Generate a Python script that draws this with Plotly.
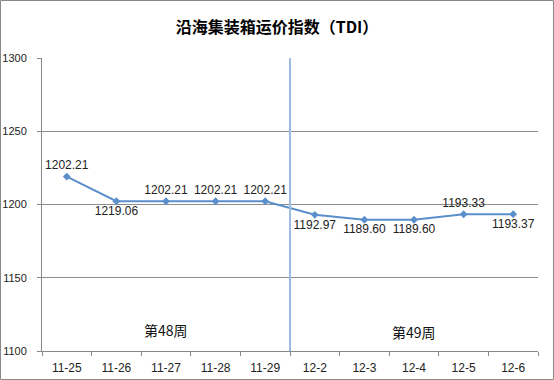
import plotly.graph_objects as go

categories = ["11-25", "11-26", "11-27", "11-28", "11-29", "12-2", "12-3", "12-4", "12-5", "12-6"]
values = [1219.06, 1202.21, 1202.21, 1202.21, 1202.21, 1192.97, 1189.60, 1189.60, 1193.33, 1193.37]
point_labels = ["1202.21", "1219.06", "1202.21", "1202.21", "1202.21", "1192.97", "1189.60", "1189.60", "1193.33", "1193.37"]
label_pos = ["top center", "bottom center", "top center", "top center", "top center",
             "bottom center", "bottom center", "bottom center", "top center", "bottom center"]
week_labels = ["第48周", "第49周"]
week_label_cats = ["11-27", "12-4"]
week_label_y = [1114.5, 1113]
y_ticks = [1100, 1150, 1200, 1250, 1300]

W, H = 554, 380
ml, mr, mt, mb = 42, 16, 58, 29
pw, ph = W - ml - mr, H - mt - mb

fig = go.Figure()
fig.add_trace(go.Scatter(
    x=categories, y=values, mode="lines+markers+text",
    text=point_labels, textposition=label_pos,
    textfont=dict(family="Liberation Sans, Arial", size=12, color="#222222"),
    line=dict(color="#5B8FCC", width=2),
    marker=dict(symbol="diamond", size=6, color="#5B8FCC"),
    cliponaxis=False, showlegend=False,
))

for t, c, yv in zip(week_labels, week_label_cats, week_label_y):
    fig.add_annotation(x=c, y=yv, text=t, showarrow=False,
                       font=dict(family="Noto Sans CJK SC", size=14, color="#111111"))

# week divider between 11-29 and 12-2
fig.add_shape(type="line", xref="x", yref="paper", x0=4.5, x1=4.5, y0=0, y1=1,
              line=dict(color="#9DBDE0", width=2))

# outer chart border
fig.add_shape(type="rect", xref="paper", yref="paper",
              x0=-(ml - 0.5) / pw, x1=1 + (mr - 0.5) / pw,
              y0=-(mb - 0.5) / ph, y1=1 + (mt - 0.5) / ph,
              line=dict(color="#888888", width=1))

fig.update_layout(
    width=W, height=H,
    margin=dict(l=ml, r=mr, t=mt, b=mb, autoexpand=False),
    paper_bgcolor="white", plot_bgcolor="white",
    title=dict(text="<b>沿海集装箱运价指数（TDI）</b>", x=0.5, xanchor="center",
               y=1 - 27 / H, yanchor="middle",
               font=dict(family="Noto Sans CJK SC", size=16, color="#000000")),
    xaxis=dict(type="category", tickson="boundaries", ticks="outside", ticklen=4,
               tickcolor="#888888", showline=True, linecolor="#888888", showgrid=False,
               automargin=False, ticklabelstandoff=6,
               tickfont=dict(family="Liberation Sans, Arial", size=12, color="#222222"),
               range=[-0.5, 9.5]),
    yaxis=dict(range=[1100, 1300], tickvals=y_ticks, ticks="outside", ticklen=4,
               tickcolor="#888888", showline=True, linecolor="#888888",
               showgrid=True, gridcolor="#8C8C8C", gridwidth=1,
               ticklabelstandoff=8, automargin=False,
               tickfont=dict(family="Liberation Sans, Arial", size=11, color="#222222")),
)

fig.write_html("out.html")
